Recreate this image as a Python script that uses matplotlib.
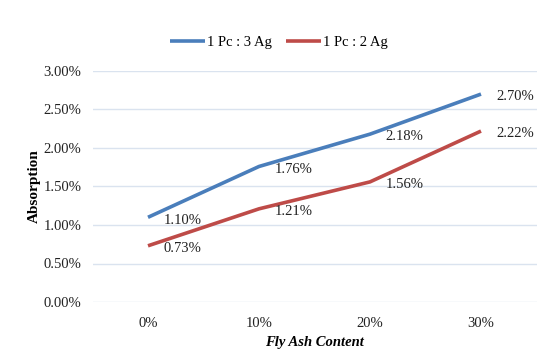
import matplotlib
matplotlib.use("Agg")
import matplotlib.pyplot as plt
from matplotlib.ticker import FuncFormatter

categories = ["0%", "10%", "20%", "30%"]
series_3ag = [1.10, 1.76, 2.18, 2.70]
series_2ag = [0.73, 1.21, 1.56, 2.22]
names = ["1 Pc : 3 Ag", "1 Pc : 2 Ag"]

plt.rcParams['font.family'] = ['Liberation Serif', 'DejaVu Serif']

fig = plt.figure(figsize=(5.6, 3.59), dpi=100)
W, H = 560, 359
ax = fig.add_axes([92.5 / W, 1 - 302 / H, (536.5 - 92.5) / W, (302 - 71) / H])

x = list(range(len(categories)))
colors = ["#4A7EBB", "#BE4B48"]
for vals, c, n in zip([series_3ag, series_2ag], colors, names):
    ax.plot(x, vals, color=c, lw=2.6, label=n, solid_capstyle='butt')
    for xi, v in zip(x, vals):
        ax.annotate(f"{v:.2f}%", (xi, v), xytext=(11, -2), textcoords='offset points',
                    ha='left', va='center', fontsize=10.5, color='#222222')

ax.set_xlim(-0.5, len(categories) - 0.5)
ax.set_ylim(0, 3.0)
ax.set_yticks([0, 0.5, 1.0, 1.5, 2.0, 2.5, 3.0])
ax.yaxis.set_major_formatter(FuncFormatter(lambda v, p: f"{v:.2f}%"))
ax.set_xticks(x)
ax.set_xticklabels(categories)
ax.grid(axis='y', color='#DAE3EF', lw=1)
ax.set_axisbelow(True)
for s in ax.spines.values():
    s.set_visible(False)
ax.tick_params(axis='both', length=0, labelsize=10.5, colors='#222222')
ax.tick_params(axis='y', pad=8)
ax.tick_params(axis='x', pad=11)

ax.set_ylabel("Absorption", fontsize=11, fontweight='bold', labelpad=2)
ax.set_xlabel("Fly Ash Content", fontsize=10.5, fontweight='bold', style='italic', labelpad=4)

fig.legend(loc='center', bbox_to_anchor=(279 / W, 1 - 42 / H), ncol=2, frameon=False,
           fontsize=10.5, handlelength=2.4, handletextpad=0.1, columnspacing=1.0)

fig.savefig("out.png", dpi=100)
